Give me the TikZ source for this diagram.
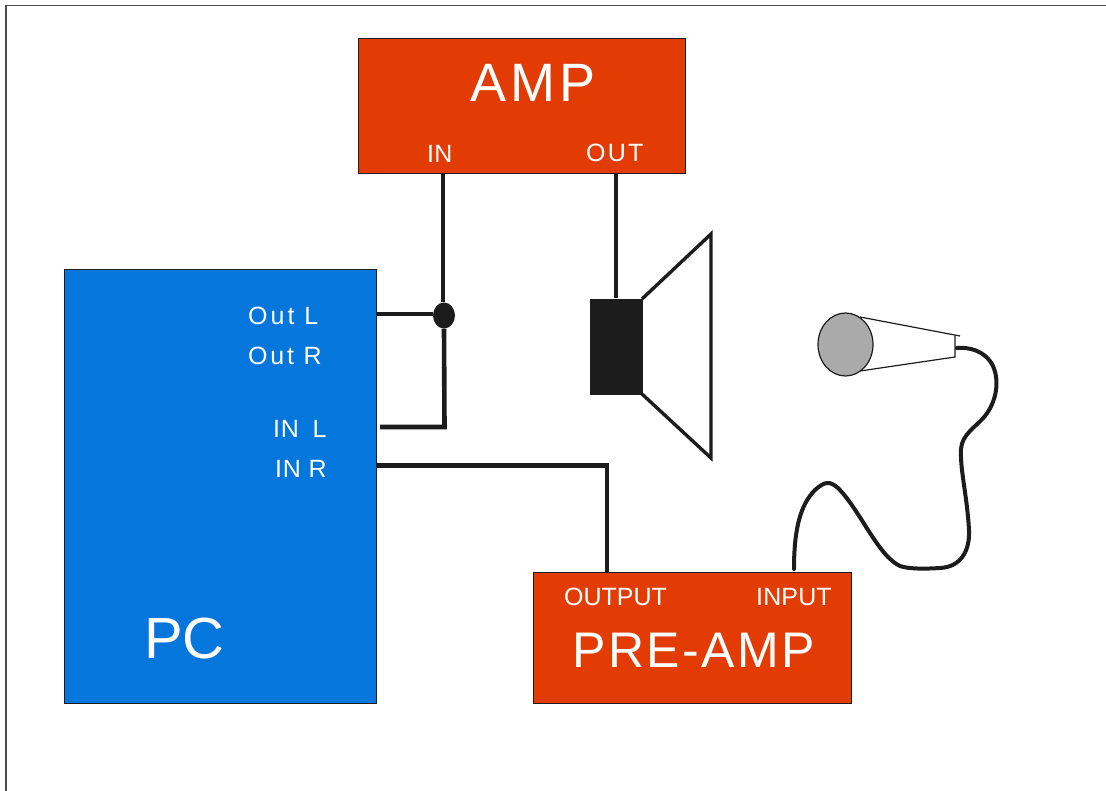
\documentclass[tikz,border=0pt]{standalone}
\usepackage{fontspec}
\setmainfont{Liberation Sans}
\usetikzlibrary{shapes.geometric}
\newcommand{\lbl}[2]{\fontsize{#1}{#1}\selectfont\addfontfeature{LetterSpace=#2}}
\definecolor{ampred}{RGB}{226,60,4}
\definecolor{pcblue}{RGB}{4,118,220}
\definecolor{ink}{RGB}{28,28,28}
\definecolor{micgrey}{RGB}{170,170,170}
\tikzset{
  x=1pt,y=-1pt,
  redbox/.style={draw=ink,line width=1pt,fill=ampred,inner sep=0pt,minimum width=#1},
  pclabel/.style={text=white,inner sep=0pt,anchor=base west},
  wire/.style={draw=ink,line width=3.4pt,line cap=butt,line join=miter},
  thickwire/.style={draw=ink,line width=4.6pt,line cap=butt,line join=miter},
  cable/.style={draw=ink,line width=4pt,line cap=round,line join=round},
  micline/.style={draw=ink,line width=1.2pt}
}
\begin{document}
\begin{tikzpicture}
\useasboundingbox (0,0) rectangle (1106,791);
\draw[draw=black!70,line width=1.4pt] (6,791) -- (6,5.5) -- (1106,5.5);
% boxes
\node[redbox=327pt,minimum height=135pt,anchor=north west] (amp) at (358,38) {};
\node[draw=ink,line width=1pt,fill=pcblue,inner sep=0pt,minimum width=312.5pt,minimum height=434pt,anchor=north west] (pc) at (63.5,269) {};
\node[redbox=318pt,minimum height=131pt,anchor=north west] (pre) at (533,571.5) {};
% connection points
\coordinate (ampin) at (443,173);
\coordinate (ampout) at (616,173);
\coordinate (outl) at (376,314);
\coordinate (inl) at (380,427);
\coordinate (inr) at (376,465.5);
\coordinate (preout) at (607,572);
\coordinate (prein) at (794,569);
% speaker
\coordinate (spkA) at (642,299);
\coordinate (spkB) at (711,234);
\coordinate (spkC) at (711,458);
\coordinate (spkD) at (642,394);
\draw[wire] (spkA) -- (spkB) -- (spkC) -- (spkD);
\node[fill=ink,inner sep=0pt,minimum width=53pt,minimum height=96pt,anchor=north west] (coil) at (589.5,298.5) {};
% wires
\node[ellipse,fill=ink,inner sep=0pt,minimum width=22pt,minimum height=26pt] (junction) at (444,315.5) {};
\draw[wire] (ampin) -- (ampin |- junction.north);
\draw[wire] (outl) -- (outl -| junction.west);
\draw[thickwire] (junction.south) -- (444.5,427) -- (inl);
\draw[thickwire] (inr) -- (607,465.5) -- (preout);
\draw[thickwire] (ampout) -- (ampout |- coil.north);
% microphone
\coordinate (mica) at (860,317);
\coordinate (micb) at (960,336);
\coordinate (micc) at (955,336);
\coordinate (micd) at (955,357);
\coordinate (mice) at (860,371);
\draw[micline] (mica) -- (micb);
\draw[micline] (micc) -- (micd) -- (mice);
\node[ellipse,draw=ink,line width=1.2pt,fill=micgrey,inner sep=0pt,minimum width=55pt,minimum height=63pt] (mic) at (845.5,344.5) {};
\draw[cable] (957,348) .. controls (968,347) and (985,350) .. (993,366)
  .. controls (1000,382) and (996,402) .. (985,416)
  .. controls (976,427) and (962,434) .. (961,449)
  .. controls (960,470) and (967,495) .. (969,530)
  .. controls (970,552) and (960,567) .. (940,568)
  .. controls (925,569) and (908,569) .. (900,566)
  .. controls (878,556) and (860,510) .. (838,488)
  .. controls (830,481) and (825,481) .. (815,490)
  .. controls (800,505) and (794,530) .. (prein);
% labels
\node[text=white,inner sep=0pt,anchor=base west,font=\lbl{54}{8}] (tamp) at (470,102) {AMP};
\node[text=white,inner sep=0pt,anchor=base west,font=\lbl{25}{1}] (tin) at (427,163) {IN};
\node[text=white,inner sep=0pt,anchor=base west,font=\lbl{25}{9}] (tout) at (586,162) {OUT};
\node[pclabel,font=\lbl{25}{12}] (t1) at (248,325) {Out L};
\node[pclabel,font=\lbl{25}{11}] (t2) at (248,365) {Out R};
\node[pclabel,font=\lbl{25}{3}] (t3) at (273,438) {IN\hspace{6pt} L};
\node[pclabel,font=\lbl{25}{3}] (t4) at (275,478) {IN R};
\node[pclabel,font=\lbl{58}{0}] (tpc) at (144,658) {PC};
\node[text=white,inner sep=0pt,anchor=base west,font=\lbl{25}{0}] (toutp) at (564,605) {OUTPUT};
\node[text=white,inner sep=0pt,anchor=base west,font=\lbl{25}{0.5}] (tinp) at (756,605) {INPUT};
\node[text=white,inner sep=0pt,anchor=base west,font=\lbl{50}{5}] (tpre) at (572,667) {PRE-AMP};
\end{tikzpicture}
\end{document}
